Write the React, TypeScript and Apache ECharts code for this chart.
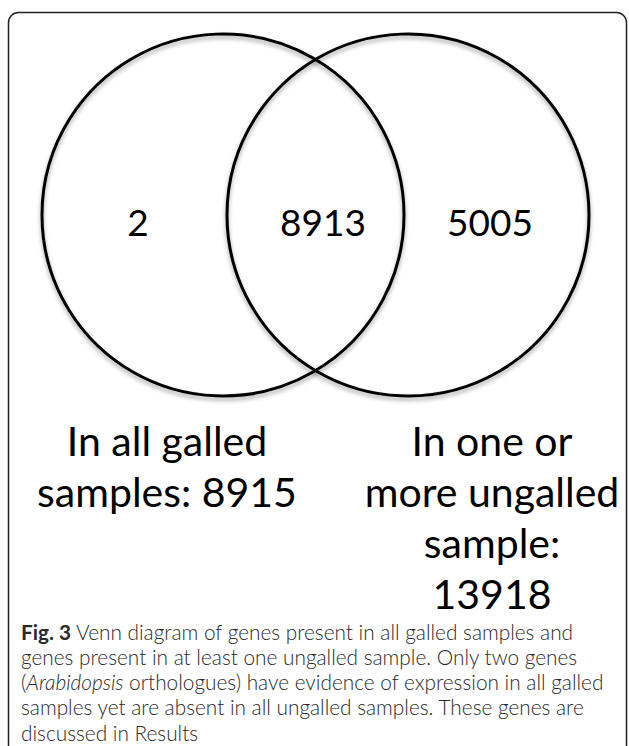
import React, { useEffect, useRef } from "react";
import * as echarts from "echarts";

// ---- data ----
const regionNames = ["only galled", "both", "only ungalled"];
const regionCounts = [2, 8913, 5005];
const setTotals = [8915, 13918];
const leftSetLines = ["In all galled", `samples: ${setTotals[0]}`];
const rightSetLines = ["In one or", "more ungalled", "sample:", `${setTotals[1]}`];
const captionLines = [
  "{b|Fig. 3} Venn diagram of genes present in all galled samples and",
  "genes present in at least one ungalled sample. Only two genes",
  "({i|Arabidopsis} orthologues) have evidence of expression in all galled",
  "samples yet are absent in all ungalled samples. These genes are",
  "discussed in Results",
];

// ---- layout ----
const W = 629;
const H = 746;
const R = 181;
const CY = 215;
const CIRCLE_X = [223, 408];
const REGION_X = [138, 323, 490];
const REGION_Y = 221;
const FONT = "Lato, 'Open Sans', 'DejaVu Sans', sans-serif";
const CAP = 20.8;

export default function App() {
  const ref = useRef<HTMLDivElement>(null);
  useEffect(() => {
    document.body.style.margin = "0";
    const chart = echarts.init(ref.current!, null, { renderer: "svg" });
    const elements: any[] = [];
    elements.push({
      type: "rect",
      shape: { x: 8.5, y: 12.5, width: 618, height: 800, r: 10 },
      style: { fill: "none", stroke: "#222", lineWidth: 1.5 },
      silent: true,
    });
    CIRCLE_X.forEach((cx) => {
      elements.push({
        type: "circle",
        shape: { cx, cy: CY, r: R },
        style: {
          fill: "none",
          stroke: "#000",
          lineWidth: 3,
          shadowBlur: 4,
          shadowColor: "rgba(0,0,0,0.35)",
          shadowOffsetY: 3,
        },
      });
    });
    regionCounts.forEach((v, i) => {
      elements.push({
        type: "text",
        name: regionNames[i],
        x: REGION_X[i],
        y: REGION_Y,
        style: {
          text: String(v),
          fontFamily: FONT,
          fontSize: 37,
          fill: "#000",
          align: "center",
          verticalAlign: "middle",
        },
      });
    });
    const setLabel = (lines: string[], x: number) =>
      lines.forEach((t, i) =>
        elements.push({
          type: "text",
          x,
          y: 440 + i * 51,
          style: {
            text: t,
            fontFamily: FONT,
            fontSize: 41,
            fill: "#000",
            align: "center",
            verticalAlign: "middle",
          },
        })
      );
    setLabel(leftSetLines, 167);
    setLabel(rightSetLines, 492);
    captionLines.forEach((t, i) =>
      elements.push({
        type: "text",
        x: 21,
        y: 631 + i * 25.3,
        style: {
          text: t,
          fontFamily: FONT,
          fontSize: CAP,
          fontWeight: 300,
          fill: "#2a2a2a",
          align: "left",
          verticalAlign: "middle",
          rich: {
            b: { fontFamily: FONT, fontSize: CAP, fontWeight: "bold", fill: "#2a2a2a" },
            i: { fontFamily: FONT, fontSize: CAP, fontStyle: "italic", fontWeight: 300, fill: "#2a2a2a" },
          },
        },
      })
    );
    chart.setOption({
      animation: false,
      backgroundColor: "#fff",
      graphic: { elements },
    });
    return () => chart.dispose();
  }, []);
  return (
    <div
      ref={ref}
      style={{ position: "absolute", left: 0, top: 0, width: W, height: H }}
    />
  );
}
